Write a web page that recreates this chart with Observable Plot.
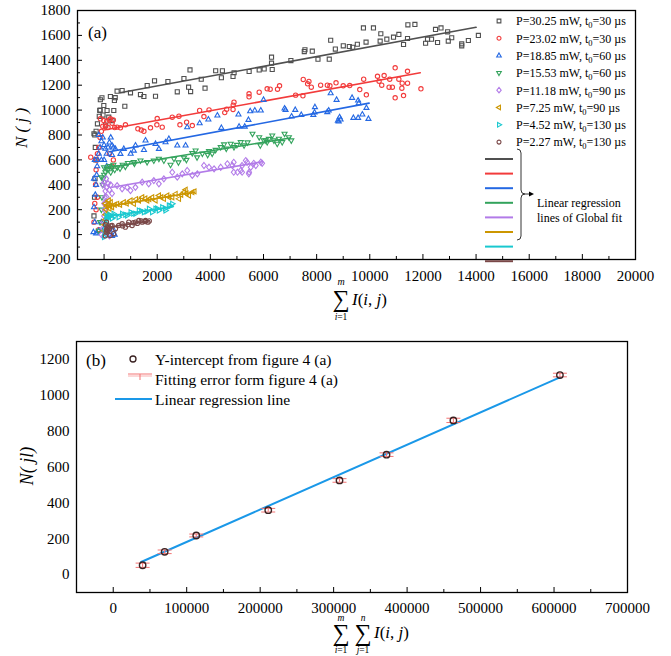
<!DOCTYPE html>
<html><head><meta charset="utf-8">
<script src="https://cdn.jsdelivr.net/npm/d3@7"></script>
<script src="https://cdn.jsdelivr.net/npm/@observablehq/plot@0.6"></script>
<style>
body{margin:0;background:#fff;}
#wrap{width:671px;}
#wrap svg{display:block;}
</style></head><body><div id="wrap"></div><script>
const SERIF = "'Liberation Serif','Times New Roman',serif";

// ---------- Panel (a) data ----------
const s1X = [-380,-360,-340,-310,-330,-350,-380,-300,-250,-180,-150,-140,-80,-160,-10,113,238,389,490,679,781,366,177,302,60,-40,420,994,1370,1498,1623,1899,1936,2403,2755,3006,3234,3181,3257,3657,3800,4200,4453,4415,4893,4853,5459,5838,6025,6302,6302,6328,7031,7560,7535,7836,8050,8475,8528,8704,9003,9230,9358,9532,9761,9860,10138,10390,10415,10641,10893,11094,11270,11420,11434,11698,12100,12173,12324,12550,12474,12680,12930,12954,13083,13460,13460,13710,14087];
const s1Y = [150,300,450,600,700,800,810,830,890,950,1000,1083,1099,997,1037,997,1109,1077,1152,1157,1031,997,943,916,880,960,1100,1139,1125,1109,1197,1235,1111,1229,1147,1254,1323,1184,1149,1248,1176,1316,1316,1260,1300,1270,1310,1323,1331,1425,1377,1326,1398,1485,1470,1473,1409,1409,1561,1490,1516,1511,1505,1529,1660,1546,1660,1554,1613,1570,1586,1608,1527,1575,1685,1688,1537,1570,1570,1543,1648,1660,1629,1554,1581,1532,1516,1559,1600];
const s2X = [-502,-380,-350,-320,-300,-280,-250,-200,-150,-100,-50,-140,-11,238,302,49,490,616,804,100,150,200,350,400,-200,-300,200,300,350,-250,1272,1400,1500,1747,2000,1987,2189,2566,2818,2855,3106,3321,3596,3758,3950,4615,4541,4854,4890,4860,5456,5456,5838,6138,6252,6604,6528,7208,7484,7496,7710,7660,7799,8150,8403,8500,8730,9000,9245,9623,9770,9871,10290,10350,10450,10540,10750,10727,10850,10955,10955,11094,11220,11207,11270,11420,11420,11925];
const s2Y = [622,100,250,400,520,600,650,700,780,830,870,930,916,930,895,868,863,858,882,910,860,920,920,860,40,200,650,550,600,300,850,840,830,858,932,882,863,943,951,882,903,876,997,948,1002,1007,980,1005,1064,1040,1131,1107,1144,1171,1168,1195,1168,1120,1115,1246,1230,1211,1184,1200,1200,1195,1219,1195,1197,1165,1248,1123,1272,1232,1200,1278,1248,1184,1184,1340,1099,1248,1216,1176,1117,1312,1216,1171];
const s3X = [-400,-350,-380,-330,-300,-380,-280,-260,-350,-240,-200,-150,-100,-50,0,50,100,150,200,250,300,350,-300,-200,100,200,300,400,-100,0,350,-200,-100,0,100,300,427,616,743,1000,1120,1182,1500,1560,1937,2064,2313,2440,2755,3068,3128,3597,3925,4264,4415,5057,5081,5295,5434,5498,5672,5898,6000,6792,6830,7195,7057,7422,7875,7936,7920,8453,8400,8528,8750,8800,8864,8900,8830,9333,9560,9585,9874,9950,9720,9560,9383];
const s3Y = [20,100,220,320,400,450,480,550,600,600,650,700,750,780,720,690,650,700,740,780,640,700,10,30,20,0,-10,0,100,50,40,800,600,600,550,716,689,649,689,650,675,716,680,756,729,689,742,769,716,716,863,895,925,957,858,965,868,868,922,991,997,997,1083,1013,1002,1002,949,962,962,1024,981,997,984,1136,1083,916,943,925,909,1099,1077,1056,1018,930,965,938,938];
const s4X = [-200,-150,-100,-80,-50,-30,0,50,100,150,200,250,300,350,-100,0,400,500,600,700,800,900,1117,1145,1370,1620,1872,2063,2250,2630,3006,3321,3445,3700,3950,4070,4390,4515,4765,4890,5144,5270,5585,5838,5880,6087,6200,6013,6140,6328,6390,6517,6580,6705,6792,6955,7045,2500,2800,3100,3500,3900,4200,4600,5000,5400];
const s4Y = [30,100,200,300,400,450,480,500,530,520,550,500,540,560,460,540,520,540,530,560,545,575,582,570,595,582,595,609,595,609,617,654,675,650,670,650,702,724,729,702,742,716,810,782,716,756,768,756,742,796,756,729,769,742,810,782,756,560,580,600,620,640,680,690,720,740];
const s5X = [-100,-50,-30,0,20,0,30,50,100,150,200,250,300,100,50,0,150,200,-50,0,80,490,679,870,994,1180,1434,1680,1872,2063,2250,2566,2755,2943,3130,3320,3510,3760,3950,4140,4390,4640,4830,5020,5145,5333,5460,5520,5710,5898,4880,4880,5195,5447,5384,5634,5950,5195];
const s5Y = [0,50,100,150,200,250,300,350,380,410,360,400,330,300,250,-10,40,-10,400,420,450,394,368,380,354,380,421,408,434,408,448,501,461,488,515,475,488,555,541,528,541,569,555,501,515,595,501,541,555,582,581,501,501,488,581,573,573,555];
const s6X = [0,20,40,60,80,100,150,200,250,50,300,400,176,230,490,740,994,1120,1310,1434,1623,1810,1936,2063,2250,2377,2566,2691,2818,3006,3068,3194,3320,3400,600,850,1200,1550,1700,2150,2450,2900,3100];
const s6Y = [30,80,120,160,200,230,240,210,260,250,220,240,274,230,247,260,274,247,274,300,274,300,274,314,287,314,300,327,287,341,360,314,341,347,240,250,285,290,285,300,300,320,330];
const s7X = [30,50,70,90,100,150,200,250,0,300,113,230,360,550,680,870,1000,1180,1310,1500,1690,1810,1936,2063,2190,2313,2440,2566,400,800,1100,1400,1600,2000,2300,2500];
const s7Y = [10,50,90,120,150,140,160,150,-20,130,140,153,167,140,167,153,180,167,194,180,207,180,207,194,220,194,234,247,150,160,170,190,185,210,210,230];
const s8X = [50,80,100,120,150,200,250,60,90,113,176,300,427,550,680,800,930,1055,1180,1310,1434,1560,1650,230,360,700,900,1100,1250,1400,1550,1700];
const s8Y = [-10,20,40,60,30,50,70,80,100,33,60,73,47,73,87,60,100,73,100,113,100,113,100,-7,7,70,80,95,90,110,105,110];

// global-fit regression lines (end points)
const fitX = [[600,14000],[0,11900],[200,9975],[100,7000],[300,5950],[100,3400],[200,2600],[200,1700]];
const fitY = [[1140,1665],[840,1300],[665,1056],[537,776],[380,585],[225,340],[150,225],[60,110]];

const seriesPower = ["30.25","23.02","18.85","15.53","11.18","7.25","4.52","2.27"];
const seriesT0 = ["30","30","60","60","90","90","130","130"];

const xTicksA = [0,2000,4000,6000,8000,10000,12000,14000,16000,18000,20000];
const yTicksA = [-200,0,200,400,600,800,1000,1200,1400,1600,1800];

// ---------- Panel (b) data ----------
const bX = [40000,70000,113000,211000,308000,372000,463000,608000];
const bY = [52,127,218,359,525,669,860,1113];
const bErr = [12,10,8,10,10,10,12,10];
const bLineX = [38000,608000];
const bLineY = [70,1100];
const xTicksB = [0,100000,200000,300000,400000,500000,600000,700000];
const yTicksB = [0,200,400,600,800,1000,1200];

// ---------- styles ----------
const colors = ["#505050","#f23b3b","#2468e3","#33a35c","#b27be8","#cc9600","#19c8cf","#7a4848"];
function polySym(pts){return {draw(ctx,size){const r=Math.sqrt(size/Math.PI);pts.forEach(([a,b],k)=>k?ctx.lineTo(a*r,b*r):ctx.moveTo(a*r,b*r));ctx.closePath();}};}
const symCircle = {draw(ctx,size){const r=Math.sqrt(size/Math.PI)*0.9;ctx.moveTo(r,0);ctx.arc(0,0,r,0,2*Math.PI);}};
const symbols = [
  polySym([[-0.85,-0.85],[0.85,-0.85],[0.85,0.85],[-0.85,0.85]]),
  symCircle,
  polySym([[0,-1.2],[1.05,0.65],[-1.05,0.65]]),
  polySym([[0,1.2],[1.05,-0.65],[-1.05,-0.65]]),
  polySym([[0,-1.25],[1,0],[0,1.25],[-1,0]]),
  polySym([[-1.2,0],[0.65,-1.05],[0.65,1.05]]),
  polySym([[1.2,0],[-0.65,-1.05],[-0.65,1.05]]),
  symCircle
];
const capSym = {draw(ctx,size){const w=Math.sqrt(size/Math.PI);ctx.moveTo(-w,0);ctx.lineTo(w,0);}};
function symPath(sym, r){const p=d3.path(); sym.draw(p, Math.PI*r*r); return p.toString();}

const seriesX = [s1X,s2X,s3X,s4X,s5X,s6X,s7X,s8X];
const seriesY = [s1Y,s2Y,s3Y,s4Y,s5Y,s6Y,s7Y,s8Y];

function sumText(g, x, y){
  const it = g.append("text").attr("x",x).attr("y",y).attr("font-size",17);
  it.append("tspan").attr("font-style","italic").text("I");
  it.append("tspan").text("(");
  it.append("tspan").attr("font-style","italic").text("i");
  it.append("tspan").text(", ");
  it.append("tspan").attr("font-style","italic").text("j");
  it.append("tspan").text(")");
}

// ---------- Panel (a) ----------
const marksA = [];
seriesX.forEach((xs,i)=>{
  const pts = xs.map((x,j)=>({x, y: seriesY[i][j]}));
  marksA.push(Plot.dot(pts,{x:"x",y:"y",symbol:symbols[i],r:2.4,stroke:colors[i],strokeWidth:1.1,fill:"none"}));
  const fl = fitX[i].map((x,j)=>({x, y: fitY[i][j]}));
  marksA.push(Plot.line(fl,{x:"x",y:"y",stroke:colors[i],strokeWidth:1.6}));
});

function extrasA(){
  const g = d3.create("svg:g").attr("font-family", SERIF).attr("fill","#000").attr("text-anchor","start");
  g.append("text").attr("x",88).attr("y",38).attr("font-size",17).text("(a)");
  // legend
  seriesPower.forEach((p,i)=>{
    const y = 21 + i*17.3;
    g.append("path").attr("d",symPath(symbols[i],2.2)).attr("transform",`translate(499,${y})`).attr("fill","none").attr("stroke",colors[i]).attr("stroke-width",1.1);
    const t = g.append("text").attr("x",516).attr("y",y+4.3).attr("font-size",12);
    t.append("tspan").text(`P=${p} mW, t`);
    t.append("tspan").attr("font-size",8.5).attr("dy",3).text("0");
    t.append("tspan").attr("dy",-3).text(`=${seriesT0[i]} µs`);
  });
  colors.forEach((c,i)=>{
    const y = 159 + i*14.6;
    g.append("line").attr("x1",485).attr("x2",513).attr("y1",y).attr("y2",y).attr("stroke",c).attr("stroke-width",2);
  });
  g.append("path").attr("d","M517,149 Q521,149 521,153 L521,190 Q521,194 525,194 Q521,194 521,198 L521,236 Q521,240 517,240")
    .attr("fill","none").attr("stroke","#000").attr("stroke-width",0.8);
  g.append("line").attr("x1",525).attr("x2",530).attr("y1",194).attr("y2",194).attr("stroke","#000").attr("stroke-width",0.8);
  g.append("path").attr("d","M529,191.5 L534,194 L529,196.5 Z").attr("fill","#000");
  g.append("text").attr("x",537).attr("y",207).attr("font-size",12).text("Linear regression");
  g.append("text").attr("x",537).attr("y",222).attr("font-size",12).text("lines of Global fit");
  // axis titles
  g.append("text").attr("transform","translate(27,128) rotate(-90)").attr("text-anchor","middle").attr("font-size",17).attr("font-style","italic").text("N ( j )");
  g.append("text").attr("x",341).attr("y",307).attr("text-anchor","middle").attr("font-size",24).text("∑");
  g.append("text").attr("x",341).attr("y",285).attr("text-anchor","middle").attr("font-size",10).attr("font-style","italic").text("m");
  const lo = g.append("text").attr("x",341).attr("y",320).attr("text-anchor","middle").attr("font-size",9.5);
  lo.append("tspan").attr("font-style","italic").text("i"); lo.append("tspan").text("=1");
  sumText(g, 352, 305);
  return g.node();
}

const plotA = Plot.plot({
  width: 671, height: 330,
  marginLeft: 77, marginRight: 36, marginTop: 10, marginBottom: 71,
  x: {domain: [-1000, 20000]},
  y: {domain: [-200, 1800]},
  style: {fontFamily: SERIF, fontSize: "15px", color: "#000", background: "#fff"},
  marks: [
    ...marksA,
    Plot.axisX({ticks: xTicksA, tickSize: -5, tickPadding: 16, tickFormat: d=>String(d), label: null, fontSize: 15}),
    Plot.axisX({ticks: xTicksA.map(v=>v+1000).filter(v=>v<20000), tickSize: -3, tickFormat: ()=>"", label: null}),
    Plot.axisY({ticks: yTicksA, tickSize: -5, tickPadding: 12, tickFormat: d=>String(d), label: null, fontSize: 15}),
    Plot.axisY({ticks: yTicksA.map(v=>v+100).filter(v=>v<1800), tickSize: -3, tickFormat: ()=>"", label: null}),
    Plot.frame({stroke: "#000", strokeWidth: 1.3}),
    extrasA
  ]
});

// ---------- Panel (b) ----------
const bData = bX.map((x,i)=>({x, y: bY[i], e: bErr[i]}));
function extrasB(){
  const g = d3.create("svg:g").attr("font-family", SERIF).attr("fill","#000").attr("text-anchor","start");
  g.append("text").attr("x",86).attr("y",36).attr("font-size",17).text("(b)");
  g.append("circle").attr("cx",133).attr("cy",29).attr("r",3).attr("fill","none").attr("stroke","#3a2222").attr("stroke-width",1.3);
  g.append("line").attr("x1",128).attr("x2",152).attr("y1",44).attr("y2",44).attr("stroke","#f37474").attr("stroke-width",1);
  g.append("line").attr("x1",128).attr("x2",152).attr("y1",46).attr("y2",46).attr("stroke","#f9b0b0").attr("stroke-width",1);
  g.append("line").attr("x1",140).attr("x2",140).attr("y1",44).attr("y2",50).attr("stroke","#f37474").attr("stroke-width",1);
  g.append("line").attr("x1",115).attr("x2",152).attr("y1",69).attr("y2",69).attr("stroke","#1a98e8").attr("stroke-width",2);
  g.append("text").attr("x",155).attr("y",34.5).attr("font-size",15.5).text("Y-intercept from figure 4 (a)");
  g.append("text").attr("x",155).attr("y",55).attr("font-size",15.5).text("Fitting error form figure 4 (a)");
  g.append("text").attr("x",155).attr("y",74.5).attr("font-size",15.5).text("Linear regression line");
  g.append("text").attr("transform","translate(33,136) rotate(-90)").attr("text-anchor","middle").attr("font-size",18).attr("font-style","italic").text("N( jl)");
  g.append("text").attr("x",341).attr("y",311).attr("text-anchor","middle").attr("font-size",24).text("∑");
  g.append("text").attr("x",363).attr("y",311).attr("text-anchor","middle").attr("font-size",24).text("∑");
  g.append("text").attr("x",341).attr("y",291).attr("text-anchor","middle").attr("font-size",9.5).attr("font-style","italic").text("m");
  g.append("text").attr("x",363).attr("y",291).attr("text-anchor","middle").attr("font-size",9.5).attr("font-style","italic").text("n");
  const l1 = g.append("text").attr("x",341).attr("y",323).attr("text-anchor","middle").attr("font-size",9.5);
  l1.append("tspan").attr("font-style","italic").text("i"); l1.append("tspan").text("=1");
  const l2 = g.append("text").attr("x",363).attr("y",323).attr("text-anchor","middle").attr("font-size",9.5);
  l2.append("tspan").attr("font-style","italic").text("j"); l2.append("tspan").text("=1");
  sumText(g, 374, 308);
  return g.node();
}

const plotB = Plot.plot({
  width: 671, height: 326,
  marginLeft: 76, marginRight: 44, marginTop: 11, marginBottom: 64,
  x: {domain: [-50000, 700000]},
  y: {domain: [-100, 1300]},
  style: {fontFamily: SERIF, fontSize: "15px", color: "#000", background: "#fff"},
  marks: [
    Plot.line(bLineX.map((x,i)=>({x, y: bLineY[i]})), {x:"x", y:"y", stroke:"#1a98e8", strokeWidth:2}),
    Plot.ruleX(bData, {x:"x", y1: d=>d.y-d.e, y2: d=>d.y+d.e, stroke:"#f37474", strokeWidth:1}),
    Plot.dot(bData, {x:"x", y: d=>d.y+d.e, symbol: capSym, r: 7, stroke:"#f37474", strokeWidth:1}),
    Plot.dot(bData, {x:"x", y: d=>d.y-d.e, symbol: capSym, r: 7, stroke:"#f37474", strokeWidth:1}),
    Plot.dot(bData, {x:"x", y:"y", r: 3.2, stroke:"#3a2222", strokeWidth:1.4, fill:"none"}),
    Plot.axisX({ticks: xTicksB, tickSize: -5, tickPadding: 15, tickFormat: d=>String(d), label: null, fontSize: 15}),
    Plot.axisX({ticks: xTicksB.map(v=>v+50000).filter(v=>v<700000), tickSize: -3, tickFormat: ()=>"", label: null}),
    Plot.axisY({ticks: yTicksB, tickSize: 0, tickPadding: 7, tickFormat: d=>String(d), label: null, fontSize: 15}),
    Plot.frame({stroke: "#000", strokeWidth: 1.3}),
    extrasB
  ]
});

document.getElementById("wrap").append(plotA, plotB);
</script></body></html>
